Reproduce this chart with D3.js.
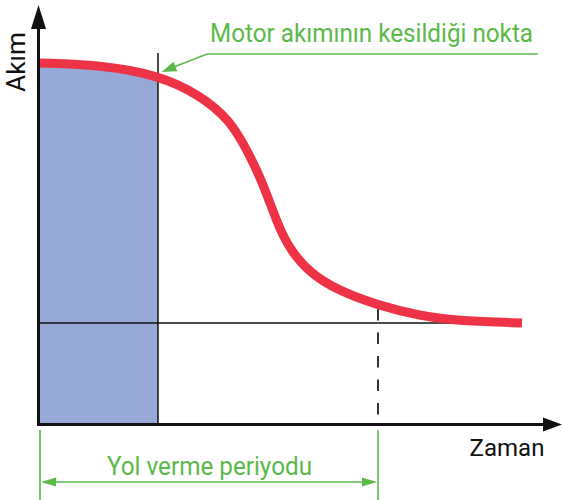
<!DOCTYPE html>
<html>
<head>
<meta charset="utf-8">
<script src="https://cdn.jsdelivr.net/npm/d3@7"></script>
<style>
  html, body { margin: 0; padding: 0; background: #fff; }
  svg { display: block; }
</style>
</head>
<body>
<div id="chart"></div>
<script>
// curve samples (time in arbitrary units, current in % of y range)
const time = [0, 1.2, 2.36, 3.2, 3.8, 4.14, 4.46, 4.74, 5.0, 5.4, 5.94, 6.74, 7.6, 8.4, 9.64];
const current = [90, 89.5, 87, 82, 75.75, 68.25, 60, 50, 43.25, 37.5, 33.25, 29.5, 26.75, 25.5, 25];
const cutOffTime = 2.36;     // motor current cut off
const periodEnd = 6.76;      // end of start-up period
const steadyCurrent = 25;
const labels = {
  yAxis: 'Akım',
  xAxis: 'Zaman',
  cutOff: 'Motor akımının kesildiği nokta',
  period: 'Yol verme periyodu'
};

(function () {
  const width = 563;
  const height = 500;
  const GREEN = '#5bb94a';
  const RED = '#ef3346';
  const BLUE = '#97a9d6';
  const INK = '#111';
  const FONT = 'Roboto, "DejaVu Sans", sans-serif';

  const x = d3.scaleLinear().domain([0, 10]).range([40, 540]);
  const y = d3.scaleLinear().domain([0, 100]).range([423, 23]);
  const points = time.map((t, i) => [t, current[i]]);
  const curve = d3.curveBasis;

  const svg = d3.select('#chart')
    .append('svg')
    .attr('width', width)
    .attr('height', height);

  const defs = svg.append('defs');
  defs.append('clipPath')
    .attr('id', 'cut')
    .append('rect')
    .attr('x', x(0))
    .attr('y', 0)
    .attr('width', x(cutOffTime) - x(0))
    .attr('height', height);

  // blue area up to the cut off point
  const area = d3.area()
    .x(d => x(d[0]))
    .y0(y(0))
    .y1(d => y(d[1]))
    .curve(curve);

  svg.append('path')
    .datum(points)
    .attr('clip-path', 'url(#cut)')
    .attr('fill', BLUE)
    .attr('d', area);

  // steady state line
  svg.append('line')
    .attr('x1', x(0)).attr('x2', x(time[time.length - 1]))
    .attr('y1', y(steadyCurrent)).attr('y2', y(steadyCurrent))
    .attr('stroke', INK).attr('stroke-width', 1.5);

  // cut off vertical
  svg.append('line')
    .attr('x1', x(cutOffTime)).attr('x2', x(cutOffTime))
    .attr('y1', 53).attr('y2', y(0))
    .attr('stroke', INK).attr('stroke-width', 1.5);

  // end of period dashed line
  svg.append('line')
    .attr('x1', x(periodEnd)).attr('x2', x(periodEnd))
    .attr('y1', y(29.5)).attr('y2', y(0))
    .attr('stroke', '#333').attr('stroke-width', 2)
    .attr('stroke-dasharray', '11.5,12')
    .attr('stroke-dashoffset', -4);

  // current curve
  const line = d3.line()
    .x(d => x(d[0]))
    .y(d => y(d[1]))
    .curve(curve);

  svg.append('path')
    .datum(points)
    .attr('fill', 'none')
    .attr('stroke', RED)
    .attr('stroke-width', 9)
    .attr('d', line);

  // axes
  const ax = 38.5;
  const ay = y(0) + 1.5;
  svg.append('line')
    .attr('x1', ax).attr('x2', ax)
    .attr('y1', 25).attr('y2', ay + 1.5)
    .attr('stroke', INK).attr('stroke-width', 3);
  svg.append('path')
    .attr('d', `M${ax},5L${ax - 7.5},29L${ax + 7.5},29Z`)
    .attr('fill', INK);

  svg.append('line')
    .attr('x1', ax - 1.5).attr('x2', 545)
    .attr('y1', ay).attr('y2', ay)
    .attr('stroke', INK).attr('stroke-width', 3);
  svg.append('path')
    .attr('d', `M562,${ay}L543,${ay - 7}L543,${ay + 7}Z`)
    .attr('fill', INK);

  svg.append('text')
    .attr('transform', 'translate(25,62) rotate(-90)')
    .attr('text-anchor', 'middle')
    .attr('font-family', FONT)
    .attr('font-size', 25)
    .attr('fill', INK)
    .attr('textLength', 60)
    .attr('lengthAdjust', 'spacingAndGlyphs')
    .text(labels.yAxis);

  svg.append('text')
    .attr('x', 507).attr('y', 456)
    .attr('text-anchor', 'middle')
    .attr('font-family', FONT)
    .attr('font-size', 24)
    .attr('fill', INK)
    .text(labels.xAxis);

  // cut off annotation
  const note = svg.append('g');
  note.append('text')
    .attr('x', 210).attr('y', 42)
    .attr('font-family', FONT)
    .attr('font-size', 25)
    .attr('fill', GREEN)
    .attr('textLength', 323)
    .attr('lengthAdjust', 'spacingAndGlyphs')
    .text(labels.cutOff);
  note.append('path')
    .attr('d', 'M538,54L207,54L172,67.8')
    .attr('fill', 'none')
    .attr('stroke', GREEN)
    .attr('stroke-width', 1.6);
  const tip = [x(cutOffTime) + 3.5, 72];
  const ang = Math.atan2(54 - tip[1], 207 - tip[0]);
  const len = 15, hw = 5;
  const bx = tip[0] + len * Math.cos(ang), by = tip[1] + len * Math.sin(ang);
  note.append('path')
    .attr('d', `M${tip[0]},${tip[1]}L${bx - hw * Math.sin(ang)},${by + hw * Math.cos(ang)}L${bx + hw * Math.sin(ang)},${by - hw * Math.cos(ang)}Z`)
    .attr('fill', GREEN);

  // start up period dimension
  const dim = svg.append('g');
  const x0 = x(0), x1 = x(periodEnd);
  const dy = 482;
  [x0, x1].forEach(px => {
    dim.append('line')
      .attr('x1', px).attr('x2', px)
      .attr('y1', 430).attr('y2', 500)
      .attr('stroke', GREEN).attr('stroke-width', 1.6);
  });
  dim.append('line')
    .attr('x1', x0 + 10).attr('x2', x1 - 10)
    .attr('y1', dy).attr('y2', dy)
    .attr('stroke', GREEN).attr('stroke-width', 1.6);
  dim.append('path')
    .attr('d', `M${x0 + 1},${dy}L${x0 + 16},${dy - 4.5}L${x0 + 16},${dy + 4.5}Z`)
    .attr('fill', GREEN);
  dim.append('path')
    .attr('d', `M${x1 - 1},${dy}L${x1 - 16},${dy - 4.5}L${x1 - 16},${dy + 4.5}Z`)
    .attr('fill', GREEN);
  dim.append('text')
    .attr('x', 107).attr('y', 475)
    .attr('font-family', FONT)
    .attr('font-size', 26)
    .attr('fill', GREEN)
    .attr('textLength', 205)
    .attr('lengthAdjust', 'spacingAndGlyphs')
    .text(labels.period);
})();
</script>
</body>
</html>
